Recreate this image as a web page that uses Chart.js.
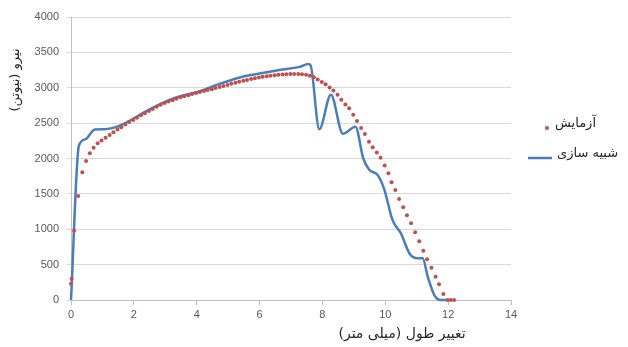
<!DOCTYPE html>
<html>
<head>
<meta charset="utf-8">
<script src="https://cdn.jsdelivr.net/npm/chart.js@4/dist/chart.umd.min.js"></script>
<style>
  html, body { margin: 0; padding: 0; background: #fff; }
  #wrap { width: 628px; height: 347px; position: relative; }
</style>
</head>
<body>
<div id="wrap"><canvas id="forceChart"></canvas></div>
<script>
// داده‌های آزمایش (نقطه‌ها)
const expX = [0, 0.02, 0.1, 0.23, 0.36, 0.48, 0.6, 0.72, 0.85, 0.97, 1.1, 1.23, 1.35, 1.48, 1.6, 1.73, 1.85, 1.98,
  2.1, 2.23, 2.35, 2.48, 2.6, 2.73, 2.85, 2.98, 3.1, 3.23, 3.35, 3.48, 3.6, 3.73, 3.85, 3.98,
  4.1, 4.23, 4.35, 4.48, 4.6, 4.73, 4.85, 4.98, 5.1, 5.23, 5.35, 5.48, 5.6, 5.73, 5.85, 5.98,
  6.1, 6.23, 6.35, 6.48, 6.6, 6.73, 6.85, 6.98, 7.1, 7.23, 7.35, 7.48, 7.6, 7.73, 7.85, 7.98,
  8.1, 8.23, 8.35, 8.48, 8.6, 8.73, 8.85, 8.98, 9.1, 9.23, 9.35, 9.48, 9.6, 9.73, 9.85, 9.98,
  10.1, 10.2, 10.32, 10.44, 10.57, 10.69, 10.82, 10.95, 11.08, 11.21, 11.33, 11.47, 11.6, 11.71, 11.85, 11.98, 12.08, 12.19];
const expY = [230, 300, 980, 1470, 1805, 1965, 2073, 2153, 2214, 2255, 2295, 2332, 2370, 2410, 2440, 2480, 2515, 2545,
  2575, 2610, 2640, 2670, 2700, 2730, 2760, 2785, 2805, 2825, 2845, 2865, 2880, 2895, 2910, 2925,
  2940, 2955, 2968, 2980, 2995, 3010, 3025, 3040, 3055, 3070, 3085, 3098, 3110, 3122, 3135, 3145,
  3155, 3163, 3170, 3177, 3183, 3188, 3192, 3195, 3196, 3195, 3192, 3185, 3170, 3150, 3115, 3080,
  3050, 3005, 2960, 2900, 2830, 2765, 2710, 2620, 2530, 2430, 2345, 2235, 2160, 2085, 2010, 1900,
  1790, 1663, 1555, 1428, 1310, 1197, 1084, 957, 830, 697, 575, 457, 329, 222, 85, 0, 0, 0];

// داده‌های شبیه سازی (خط)
const simX = [0, 0.25, 0.45, 0.76, 1.08, 1.4, 1.71, 2.5, 3.3, 4.1, 4.73, 5.37, 6.0, 6.63, 7.27, 7.55, 7.62,
  7.9, 8.27, 8.65, 9.05, 9.3, 9.49, 9.76, 9.97, 10.23, 10.5, 10.78, 11.03, 11.19, 11.35, 11.56, 11.77, 11.95];
const simY = [0, 2180, 2270, 2410, 2415, 2440, 2497, 2695, 2855, 2950, 3055, 3145, 3200, 3250, 3295, 3335, 3320,
  2415, 2900, 2350, 2450, 2000, 1840, 1765, 1560, 1130, 940, 650, 590, 590, 330, 70, 0, 0];

const xTicks = [0, 2, 4, 6, 8, 10, 12, 14];
const yMax = 4000;
const yStep = 500;

const seriesNames = ['آزمایش', 'شبیه سازی'];
const yTitle = 'نیرو (نیوتن)';
const xTitle = 'تغییر طول (میلی متر)';

const redColor = '#c0504d';
const blueColor = '#4a7ebb';
const arabicFont = "'DejaVu Sans', 'Noto Sans', sans-serif";

// عنوان محورها و راهنما
const extraText = {
    id: 'extraText',
    afterDraw(chart) {
        const ctx = chart.ctx;
        ctx.save();
        ctx.fillStyle = '#262626';
        ctx.font = '13px ' + arabicFont;
        ctx.textAlign = 'center';
        ctx.textBaseline = 'middle';
        // عنوان محور عمودی
        ctx.save();
        ctx.translate(16, 80);
        ctx.rotate(-Math.PI / 2);
        ctx.fillText(yTitle, 0, 0);
        ctx.restore();
        // عنوان محور افقی
        ctx.font = '14px ' + arabicFont;
        ctx.fillText(xTitle, 402, 334);

        // راهنما
        ctx.font = '13px ' + arabicFont;
        ctx.textAlign = 'left';
        ctx.fillStyle = redColor;
        ctx.beginPath();
        ctx.arc(547, 128, 2, 0, Math.PI * 2);
        ctx.fill();
        ctx.fillStyle = '#262626';
        ctx.fillText(seriesNames[0], 555, 124);

        ctx.strokeStyle = blueColor;
        ctx.lineWidth = 2.5;
        ctx.beginPath();
        ctx.moveTo(528, 158);
        ctx.lineTo(552, 158);
        ctx.stroke();
        ctx.fillText(seriesNames[1], 557, 154);
        ctx.restore();
    }
};

document.addEventListener('DOMContentLoaded', function() {
    const ctx = document.getElementById('forceChart').getContext('2d');
    new Chart(ctx, {
        type: 'scatter',
        data: {
            datasets: [{
                label: seriesNames[0],
                data: expX.map((x, i) => ({ x: x, y: expY[i] })),
                showLine: false,
                pointRadius: 2,
                pointBackgroundColor: redColor,
                pointBorderWidth: 0,
                clip: false
            }, {
                label: seriesNames[1],
                data: simX.map((x, i) => ({ x: x, y: simY[i] })),
                showLine: true,
                borderColor: blueColor,
                borderWidth: 2.5,
                pointRadius: 0,
                cubicInterpolationMode: 'monotone',
                clip: false
            }]
        },
        options: {
            responsive: true,
            maintainAspectRatio: false,
            animation: false,
            layout: {
                padding: { left: 0, top: 17, right: 117, bottom: 0 }
            },
            plugins: {
                legend: { display: false },
                tooltip: { enabled: false }
            },
            scales: {
                x: {
                    type: 'linear',
                    min: 0,
                    max: 14,
                    afterBuildTicks: (scale) => {
                        scale.ticks = xTicks.map(v => ({ value: v }));
                    },
                    afterFit: (scale) => { scale.height = 47; },
                    grid: {
                        drawOnChartArea: false,
                        drawTicks: true,
                        tickLength: 5,
                        color: '#bfbfbf'
                    },
                    border: { color: '#bfbfbf' },
                    ticks: {
                        padding: 3,
                        color: '#595959',
                        font: { family: "'Liberation Sans', Arial, sans-serif", size: 11 },
                        callback: (value) => String(value)
                    }
                },
                y: {
                    min: 0,
                    max: yMax,
                    afterFit: (scale) => { scale.width = 71; },
                    grid: {
                        color: '#d9d9d9',
                        tickLength: 4
                    },
                    border: { color: '#bfbfbf' },
                    ticks: {
                        stepSize: yStep,
                        padding: 8,
                        color: '#595959',
                        font: { family: "'Liberation Sans', Arial, sans-serif", size: 11 },
                        callback: (value) => String(value)
                    }
                }
            }
        },
        plugins: [extraText]
    });
});
</script>
</body>
</html>
